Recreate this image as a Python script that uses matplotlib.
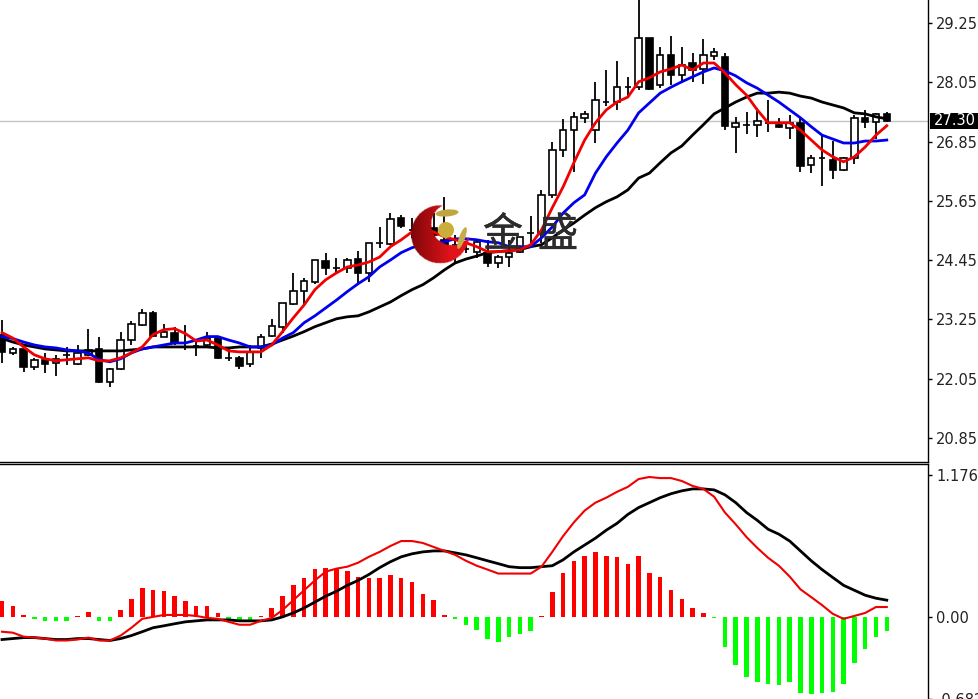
import matplotlib
matplotlib.use("Agg")
import matplotlib.pyplot as plt
import matplotlib.patheffects as pe
import matplotlib.transforms as mtrans
import numpy as np
from matplotlib.patches import Circle, Ellipse, Rectangle

opens = [22.94,22.57,22.65,22.29,22.43,22.37,22.53,22.35,22.53,22.65,21.98,22.25,22.83,23.14,23.38,22.90,22.98,22.69,22.70,22.73,22.87,22.47,22.47,22.35,22.67,22.91,23.10,23.56,23.83,24.01,24.43,24.29,24.29,24.47,24.19,24.80,24.78,25.30,25.06,24.76,25.10,24.86,24.76,24.68,24.62,24.60,24.39,24.51,24.62,25.00,25.00,25.77,26.68,27.08,27.33,27.08,27.65,27.65,27.95,27.95,28.95,27.99,28.60,28.20,28.44,28.32,28.58,28.56,27.15,27.19,27.19,27.23,27.19,27.13,27.23,26.38,26.52,26.48,26.27,26.52,27.33,27.25,27.41]
highs = [23.24,22.69,22.65,22.47,22.57,22.53,22.69,22.73,23.06,22.90,22.27,23.00,23.22,23.46,23.42,23.16,23.10,23.14,22.83,23.00,22.87,22.67,22.51,22.73,22.96,23.26,23.58,24.19,24.09,24.45,24.60,24.49,24.49,24.64,24.80,25.12,25.40,25.36,25.30,25.20,25.40,25.73,24.95,24.80,24.84,24.86,24.55,24.86,24.92,25.34,25.87,26.84,27.31,27.45,27.47,28.06,28.30,28.48,28.16,29.80,28.95,28.76,28.99,28.76,28.64,28.93,28.74,28.64,27.35,27.45,27.53,27.69,27.33,27.39,27.35,26.58,26.98,26.86,26.54,27.39,27.49,27.43,27.45]
lows = [22.37,22.53,22.19,22.23,22.17,22.11,22.33,22.33,22.51,21.96,21.88,22.23,22.73,23.12,22.90,22.89,22.73,22.63,22.51,22.69,22.45,22.41,22.25,22.29,22.47,22.89,22.98,23.54,23.54,23.97,24.15,24.21,24.19,23.95,24.01,24.70,24.76,25.10,24.90,24.70,24.80,24.60,24.40,24.60,24.49,24.31,24.29,24.31,24.60,24.72,24.80,25.71,26.54,26.23,27.23,26.82,27.57,27.49,27.73,27.89,27.89,27.93,27.99,28.04,28.06,28.02,28.50,27.08,26.62,27.00,26.94,27.04,27.13,26.90,26.23,26.21,25.95,26.09,26.25,26.40,27.13,26.90,27.25]
closes = [22.59,22.65,22.29,22.43,22.35,22.45,22.53,22.57,22.63,21.98,22.25,22.83,23.16,23.38,22.91,23.00,22.77,22.69,22.70,22.87,22.47,22.47,22.31,22.59,22.90,23.12,23.58,23.83,24.03,24.45,24.29,24.29,24.45,24.19,24.80,24.80,25.28,25.14,25.06,25.16,24.95,24.72,24.76,24.68,24.82,24.39,24.51,24.60,24.92,25.00,25.77,26.68,27.08,27.35,27.41,27.69,27.65,27.95,27.95,28.95,27.92,28.60,28.20,28.40,28.30,28.60,28.66,27.17,27.23,27.19,27.27,27.23,27.15,27.23,26.36,26.52,26.52,26.27,26.52,27.33,27.25,27.41,27.27]

ma_red = [22.98,22.87,22.69,22.53,22.45,22.41,22.43,22.45,22.47,22.41,22.41,22.47,22.57,22.69,22.94,23.04,23.06,22.96,22.81,22.83,22.73,22.61,22.59,22.59,22.59,22.73,23.00,23.28,23.54,23.85,24.05,24.19,24.31,24.35,24.41,24.51,24.72,24.86,25.02,25.10,25.02,24.92,24.86,24.80,24.72,24.62,24.62,24.64,24.66,24.76,25.06,25.51,25.93,26.42,26.88,27.23,27.49,27.65,27.75,28.06,28.14,28.26,28.32,28.40,28.30,28.44,28.44,28.24,28.00,27.79,27.49,27.23,27.23,27.23,27.08,26.88,26.68,26.54,26.44,26.54,26.74,26.98,27.17]
ma_blue = [22.90,22.86,22.79,22.73,22.69,22.67,22.63,22.61,22.57,22.43,22.39,22.45,22.57,22.65,22.69,22.73,22.77,22.77,22.83,22.90,22.90,22.83,22.77,22.69,22.69,22.73,22.87,22.98,23.18,23.32,23.48,23.64,23.81,23.97,24.11,24.31,24.45,24.60,24.70,24.76,24.80,24.82,24.88,24.88,24.86,24.82,24.80,24.72,24.72,24.72,24.90,25.12,25.40,25.61,25.77,26.21,26.54,26.82,27.08,27.43,27.63,27.83,27.95,28.06,28.16,28.26,28.34,28.28,28.18,28.04,27.93,27.79,27.65,27.49,27.33,27.15,26.98,26.90,26.82,26.82,26.86,26.86,26.88]
ma_black = [22.86,22.79,22.73,22.69,22.65,22.63,22.61,22.61,22.61,22.61,22.61,22.61,22.63,22.65,22.69,22.69,22.69,22.69,22.69,22.69,22.67,22.67,22.69,22.69,22.69,22.75,22.83,22.91,23.00,23.10,23.18,23.26,23.30,23.32,23.40,23.50,23.60,23.73,23.85,23.95,24.09,24.25,24.39,24.47,24.53,24.60,24.62,24.64,24.66,24.72,24.76,24.90,25.06,25.20,25.36,25.51,25.63,25.73,25.87,26.11,26.21,26.42,26.62,26.76,26.98,27.19,27.41,27.53,27.65,27.75,27.83,27.83,27.85,27.83,27.77,27.73,27.65,27.59,27.53,27.43,27.41,27.35,27.31]

macd_hist = [0.128,0.088,0.016,-0.016,-0.033,-0.033,-0.033,0.008,0.041,-0.033,-0.037,0.055,0.147,0.237,0.221,0.213,0.172,0.131,0.090,0.090,0.033,-0.025,-0.025,-0.025,0.008,0.074,0.172,0.262,0.327,0.401,0.409,0.401,0.384,0.335,0.319,0.327,0.344,0.327,0.286,0.188,0.139,0.016,-0.016,-0.065,-0.106,-0.180,-0.205,-0.164,-0.139,-0.115,0.008,0.210,0.368,0.466,0.507,0.540,0.507,0.499,0.442,0.507,0.368,0.335,0.221,0.147,0.074,0.033,-0.008,-0.254,-0.401,-0.499,-0.540,-0.556,-0.564,-0.540,-0.630,-0.638,-0.630,-0.622,-0.556,-0.384,-0.270,-0.164,-0.115]
macd_red = [-0.123,-0.131,-0.164,-0.172,-0.180,-0.196,-0.196,-0.188,-0.172,-0.196,-0.196,-0.155,-0.090,-0.016,0.000,0.016,0.016,0.016,0.008,-0.008,-0.016,-0.041,-0.065,-0.065,-0.033,-0.008,0.057,0.139,0.221,0.303,0.376,0.401,0.417,0.450,0.499,0.540,0.589,0.630,0.630,0.614,0.581,0.548,0.515,0.466,0.425,0.393,0.360,0.360,0.360,0.360,0.417,0.540,0.671,0.785,0.883,0.949,0.990,1.039,1.080,1.145,1.162,1.153,1.153,1.129,1.088,1.063,0.998,0.867,0.769,0.663,0.573,0.491,0.425,0.335,0.229,0.164,0.098,0.025,-0.016,0.008,0.033,0.082,0.082]
macd_black = [-0.188,-0.180,-0.172,-0.172,-0.180,-0.188,-0.188,-0.180,-0.180,-0.188,-0.196,-0.180,-0.155,-0.123,-0.090,-0.074,-0.057,-0.041,-0.033,-0.025,-0.025,-0.025,-0.033,-0.033,-0.033,-0.025,0.000,0.033,0.074,0.123,0.172,0.213,0.262,0.303,0.352,0.409,0.458,0.499,0.524,0.540,0.548,0.548,0.532,0.515,0.491,0.466,0.442,0.417,0.409,0.409,0.417,0.425,0.474,0.540,0.597,0.654,0.720,0.777,0.851,0.908,0.949,0.990,1.023,1.047,1.063,1.063,1.055,1.014,0.949,0.867,0.802,0.728,0.687,0.630,0.548,0.466,0.393,0.327,0.262,0.221,0.180,0.155,0.139]

price_ticks = [29.25, 28.05, 26.85, 25.65, 24.45, 23.25, 22.05, 20.85]
macd_ticks = [1.176, 0.00, -0.682]
last_price = 27.27
last_label = "27.30"

W, H = 979, 699
fig = plt.figure(figsize=(W / 100, H / 100), dpi=100)
ax = fig.add_axes([0, 1 - 462 / H, 928 / W, 462 / H])
ax2 = fig.add_axes([0, 0, 928 / W, (H - 464) / H])

x = np.arange(len(closes))
o = np.array(opens)
c = np.array(closes)

# candles
ax.vlines(x, lows, highs, color="black", lw=1.3, zorder=2)
up = c >= o
ax.bar(x[up], (c - o)[up], bottom=o[up], width=0.6, facecolor="white", edgecolor="black", lw=1.2, zorder=3)
ax.bar(x[~up], (c - o)[~up], bottom=o[~up], width=0.6, facecolor="black", edgecolor="black", lw=1.2, zorder=3)

ax.axhline(last_price, color="#c4c4c4", lw=1, zorder=1)
ax.plot(x, ma_black, color="black", lw=2, zorder=4)
ax.plot(x, ma_blue, color="#0000ee", lw=2, zorder=5)
ax.plot(x, ma_red, color="#f00000", lw=2, zorder=6)

ax.set_xlim(-0.185, 85.82)
ax.set_ylim(20.36, 29.716)
ax.set_yticks(price_ticks)
ax.set_yticklabels(["%.2f" % t for t in price_ticks])

# macd panel
hist = np.array(macd_hist)
colors = ["#ff0000" if v >= 0 else "#00ff00" for v in hist]
ax2.bar(x, hist, width=0.42, color=colors, zorder=2)
ax2.plot(x, macd_black, color="black", lw=2, zorder=3)
ax2.plot(x, macd_red, color="#f00000", lw=1.5, zorder=4)
ax2.set_xlim(-0.185, 85.82)
ax2.set_ylim(-0.635, 1.27)
ax2.set_yticks(macd_ticks)
ax2.set_yticklabels(["1.176", "0.00", "-0.682"])

for a in (ax, ax2):
    a.yaxis.tick_right()
    a.set_xticks([])
    a.tick_params(axis="y", length=3, width=1, color="black", labelsize=10.5, labelcolor="#222222", pad=3)
    a.spines["left"].set_visible(False)
    a.spines["top"].set_visible(False)
    a.spines["right"].set_linewidth(1)
    a.spines["bottom"].set_visible(False)
ax.spines["bottom"].set_visible(True)
ax.spines["bottom"].set_linewidth(1)
ax2.spines["top"].set_visible(True)
ax2.spines["top"].set_linewidth(1)
# the lowest label sits past the bottom edge, as in the screenshot
ax2.get_yticklabels()[2].set_clip_on(False)

# last price tag
tr = mtrans.blended_transform_factory(ax.transAxes, ax.transData)
ax.add_patch(Rectangle((1.002, last_price - 0.16), 0.06, 0.32, transform=tr, fc="black", ec="none", clip_on=False, zorder=10))
ax.text(1.0285, last_price, last_label, transform=tr, ha="center", va="center", fontsize=10.5, color="white",
        clip_on=False, zorder=11)

# logo overlay, in pixels
logo = fig.add_axes([0, 0, 1, 1], facecolor="none")
px, py = np.meshgrid(np.arange(405, 475, 0.5), np.arange(198, 270, 0.5))
outer = (px - 440) ** 2 + (py - 234) ** 2 <= 29 ** 2
inner = (px - 452) ** 2 + (py - 224) ** 2 <= 21 ** 2
shade = np.clip((px - 411) / 40, 0, 1)
img = np.zeros(px.shape + (4,))
img[..., 0] = 0.50 + 0.38 * shade
img[..., 1] = 0.02 + 0.06 * shade
img[..., 2] = 0.03 + 0.07 * shade
img[..., 3] = (outer & ~inner).astype(float)
logo.imshow(img, extent=(405, 475, 270, 198), interpolation="bilinear", zorder=1, aspect="auto")
logo.set_xlim(0, W)
logo.set_ylim(H, 0)
logo.axis("off")
logo.add_patch(Circle((446, 230), 8, fc="#c9ae3a", ec="none", zorder=2))
logo.add_patch(Ellipse((447, 213), 23, 7, angle=-5, fc="#bfa640", ec="none", zorder=2))
logo.add_patch(Ellipse((462, 238), 23, 6, angle=-70, fc="#c4ad4a", ec="none", zorder=2))
cjk = ["Noto Sans CJK SC", "DejaVu Sans"]
stroke = [pe.withStroke(linewidth=0.3, foreground="#2b2b2b")]
logo.text(503, 235, "金", family=cjk, fontsize=29, color="#2b2b2b", ha="center", va="center", zorder=3, path_effects=stroke)
logo.text(558, 235, "盛", family=cjk, fontsize=29, color="#2b2b2b", ha="center", va="center", zorder=3, path_effects=stroke)

fig.savefig("out.png", dpi=100)
